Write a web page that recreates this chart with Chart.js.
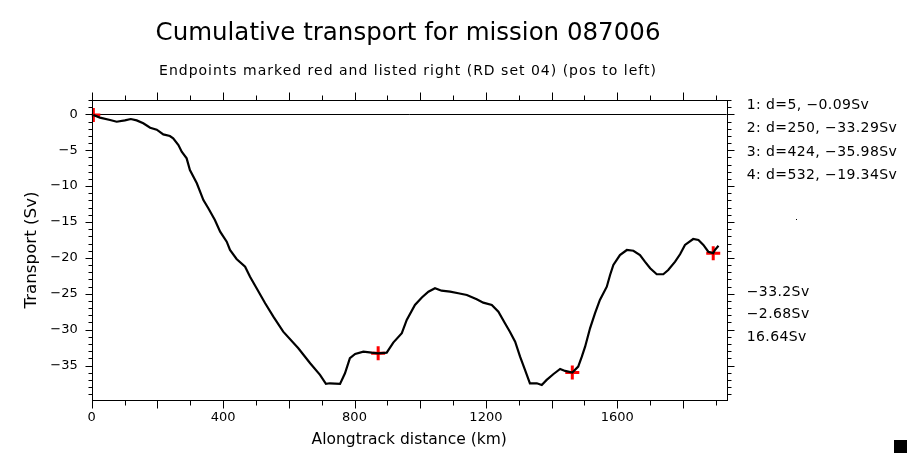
<!DOCTYPE html>
<html>
<head>
<meta charset="utf-8">
<title>Cumulative transport for mission 087006</title>
<script src="https://cdn.jsdelivr.net/npm/chart.js@4.4.1/dist/chart.umd.min.js"></script>
<style>
  html, body { margin: 0; padding: 0; background: #fff; }
  #wrap { position: relative; width: 909px; height: 455px; }
</style>
</head>
<body>
<div id="wrap"><canvas id="transport-chart"></canvas></div>
<script>
// values
const distanceKm = [
  5, 25, 56, 76, 101, 119, 137, 157, 178, 198, 218, 238, 248, 264, 274, 289,
  299, 320, 340, 355, 375, 391, 411, 421, 441, 467, 482, 502, 528, 553, 583,
  629, 665, 695, 713, 725, 756, 771, 786, 802, 827, 852, 872, 898, 918, 944,
  959, 984, 1005, 1025, 1045, 1065, 1091, 1116, 1142, 1172, 1192, 1218, 1238,
  1258, 1273, 1289, 1304, 1319, 1334, 1355, 1370, 1385, 1405, 1426, 1441,
  1463, 1481, 1492, 1502, 1517, 1532, 1547, 1568, 1578, 1588, 1608, 1629,
  1649, 1669, 1684, 1700, 1720, 1740, 1755, 1776, 1791, 1806, 1831, 1847,
  1862, 1877, 1892, 1897, 1908
];
const transportSv = [
  -0.09, -0.45, -0.79, -1.03, -0.84, -0.65, -0.84, -1.25, -1.87, -2.14, -2.79,
  -3.02, -3.34, -4.28, -5.21, -6.13, -7.77, -9.61, -11.94, -13.09, -14.72,
  -16.35, -17.74, -18.9, -20.15, -21.23, -22.62, -24.23, -26.32, -28.19,
  -30.28, -32.59, -34.68, -36.3, -37.55, -37.47, -37.56, -36.07, -33.98,
  -33.38, -33.06, -33.2, -33.29, -33.2, -31.8, -30.5, -28.65, -26.56, -25.52,
  -24.71, -24.23, -24.57, -24.71, -24.93, -25.17, -25.77, -26.24, -26.56,
  -27.49, -29.11, -30.28, -31.67, -33.76, -35.61, -37.47, -37.47, -37.7,
  -37.0, -36.21, -35.47, -35.75, -35.98, -35.15, -33.76, -32.37, -29.81,
  -27.72, -25.86, -24.01, -22.38, -20.99, -19.6, -18.9, -19.0, -19.6, -20.53,
  -21.45, -22.28, -22.28, -21.69, -20.53, -19.5, -18.2, -17.37, -17.51, -18.2,
  -19.14, -19.34, -18.9, -18.3
];

// endpoints (red crosses)
const endpointKm = [5, 872, 1463, 1892];
const endpointSv = [-0.09, -33.29, -35.98, -19.34];
const endpointLabels = [
  "1: d=5, \u22120.09Sv",
  "2: d=250, \u221233.29Sv",
  "3: d=424, \u221235.98Sv",
  "4: d=532, \u221219.34Sv"
];
const summaryLabels = ["\u221233.2Sv", "\u22122.68Sv", "16.64Sv"];
const subtitleText = "Endpoints marked red and listed right (RD set 04) (pos to left)";

// axes
const xTickValues = [0, 400, 800, 1200, 1600];
const yTickValues = [0, -5, -10, -15, -20, -25, -30, -35];
const xRange = [0, 1933];
const yRange = [-39.8, 2];

const FONT = "'DejaVu Sans', sans-serif";
Chart.defaults.color = "#000";
Chart.defaults.font.family = FONT;

const minus = (v) => String(v).replace("-", "\u2212");

// box, zero line, minor/major ticks, subtitle and the text at the right
const plotDecor = {
  id: "plotDecor",
  beforeDatasetsDraw(chart) {
    const { ctx, chartArea: a, scales } = chart;
    const y0 = Math.round(scales.y.getPixelForValue(0)) + 0.5;
    ctx.save();
    ctx.strokeStyle = "#000";
    ctx.lineWidth = 1;
    ctx.beginPath();
    ctx.moveTo(a.left, y0);
    ctx.lineTo(a.right, y0);
    ctx.stroke();
    ctx.restore();
  },
  afterDatasetsDraw(chart) {
    const { ctx, chartArea: a, scales } = chart;
    const L = Math.round(a.left) + 0.5;
    const R = Math.round(a.right) + 0.5;
    const T = Math.round(a.top) + 0.5;
    const B = Math.round(a.bottom) + 0.5;
    ctx.save();
    ctx.strokeStyle = "#000";
    ctx.lineWidth = 1;
    ctx.strokeRect(L, T, R - L, B - T);

    ctx.beginPath();
    for (let v = 0; v <= xRange[1]; v += 100) {
      const px = Math.round(scales.x.getPixelForValue(v)) + 0.5;
      const len = v % 200 === 0 ? 8 : 5;
      ctx.moveTo(px, B);
      ctx.lineTo(px, B + len);
      ctx.moveTo(px, T);
      ctx.lineTo(px, T - len);
    }
    for (let v = 2; v >= yRange[0]; v -= 1) {
      const py = Math.round(scales.y.getPixelForValue(v)) + 0.5;
      const len = v % 5 === 0 ? 7 : 4;
      ctx.moveTo(L, py);
      ctx.lineTo(L - len, py);
      ctx.moveTo(R, py);
      ctx.lineTo(R + len, py);
    }
    ctx.stroke();

    ctx.fillStyle = "#000";
    ctx.textBaseline = "middle";

    const tb = chart.titleBlock;
    ctx.font = "14px " + FONT;
    ctx.letterSpacing = "1px";
    ctx.textAlign = "center";
    ctx.fillText(subtitleText, (tb.left + tb.right) / 2, 71);

    ctx.textAlign = "left";
    ctx.letterSpacing = "0.4px";
    const tx = a.right + 20;
    endpointLabels.forEach((t, i) => ctx.fillText(t, tx, 105 + i * 23.5));
    summaryLabels.forEach((t, i) => ctx.fillText(t, tx, 292 + i * 22.5));
    ctx.letterSpacing = "0px";

    ctx.fillRect(796, 219, 1, 1);
    ctx.fillRect(894, 440, 13, 13);
    ctx.restore();
  }
};

new Chart(document.getElementById("transport-chart"), {
  type: "scatter",
  data: {
    datasets: [
      {
        label: "Transport",
        data: distanceKm.map((d, i) => ({ x: d, y: transportSv[i] })),
        showLine: true,
        borderColor: "#000",
        borderWidth: 2.2,
        pointRadius: 0,
        tension: 0
      },
      {
        label: "Endpoints",
        data: endpointKm.map((d, i) => ({ x: d, y: endpointSv[i] })),
        pointStyle: "cross",
        pointRadius: 7,
        borderColor: "#ff0000",
        borderWidth: 3
      }
    ]
  },
  options: {
    responsive: true,
    maintainAspectRatio: false,
    animation: false,
    devicePixelRatio: 1,
    layout: { padding: { left: 0, right: 93, top: 0, bottom: 0 } },
    plugins: {
      legend: { display: false },
      tooltip: { enabled: false },
      title: {
        display: true,
        text: "Cumulative transport for mission 087006",
        font: { size: 24.5, weight: "normal", family: FONT },
        padding: { top: 19.3, bottom: 51.3 }
      }
    },
    scales: {
      x: {
        type: "linear",
        min: xRange[0],
        max: xRange[1],
        grid: { display: false, drawTicks: false },
        border: { display: false },
        afterBuildTicks: (s) => { s.ticks = xTickValues.map((v) => ({ value: v })); },
        afterFit: (s) => { s.height = 55; },
        ticks: { font: { size: 13 }, padding: 10, maxRotation: 0, callback: (v) => minus(v) },
        title: {
          display: true,
          text: "Alongtrack distance (km)",
          font: { size: 15.5 },
          padding: { top: 0, bottom: 6 }
        }
      },
      y: {
        type: "linear",
        min: yRange[0],
        max: yRange[1],
        grid: { display: false, drawTicks: false },
        border: { display: false },
        afterBuildTicks: (s) => { s.ticks = yTickValues.map((v) => ({ value: v })); },
        afterFit: (s) => { s.width = 91.7; },
        ticks: { font: { size: 13 }, padding: 14, callback: (v) => minus(v) },
        title: {
          display: true,
          text: "Transport (Sv)",
          font: { size: 16.7 },
          padding: { top: 22, bottom: 0 }
        }
      },
      // empty right-hand band that holds the endpoint list
      yRight: {
        type: "linear",
        position: "right",
        min: yRange[0],
        max: yRange[1],
        grid: { display: false, drawTicks: false },
        border: { display: false },
        ticks: { display: false },
        afterFit: (s) => { s.width = 89.3; }
      }
    }
  },
  plugins: [plotDecor]
});
</script>
</body>
</html>
